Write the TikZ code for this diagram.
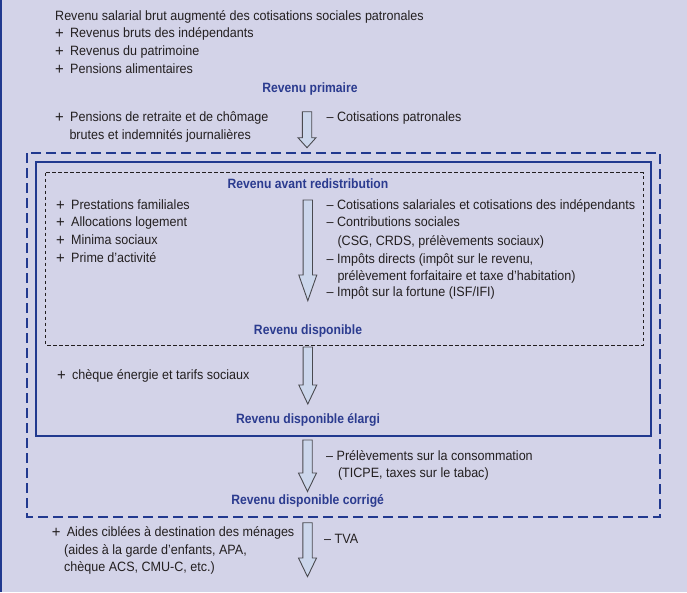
\documentclass[tikz,border=0pt]{standalone}
\usepackage{fontspec}
\setmainfont{Liberation Sans}[FakeStretch=0.93, BoldFeatures={FakeStretch=0.9}]
\definecolor{bgc}{HTML}{D3D3E8}
\definecolor{bluetxt}{HTML}{2B3B8F}
\definecolor{boxblue}{HTML}{21398F}
\definecolor{txt}{HTML}{231F20}
\definecolor{arrfill}{HTML}{CCD7EC}
\definecolor{arrdraw}{HTML}{4A4A50}
\newcommand\pl{\raisebox{-1.1pt}{\fontsize{16}{16}\selectfont+}\kern2.8pt\ }
\tikzset{
  lbl/.style={anchor=base west, inner sep=0pt, text=txt, font=\fontsize{13.5}{16}\selectfont},
  ttl/.style={anchor=base, inner sep=0pt, text=bluetxt, font=\fontsize{13.5}{16}\selectfont\bfseries},
  blockarrow/.style={draw=arrdraw, fill=arrfill, line width=0.9pt, line join=miter},
}
\newcommand\barrow[4]{%
  \draw[blockarrow] (#1-4.7,#2) -- (#1+4.7,#2) -- (#1+4.7,#3) -- (#1+9,#3) -- (#1,#4)
    -- (#1-9,#3) -- (#1-4.7,#3) -- cycle;}
\begin{document}
\begin{tikzpicture}[x=1pt,y=-1pt]
\fill[bgc] (0,0) rectangle (687,592);
\useasboundingbox (0,0) rectangle (687,592);
\draw[boxblue, line width=1.5pt] (0.75,0) -- (0.75,592);

% boxes
\draw[boxblue, line width=2pt, dash pattern=on 10pt off 5pt] (27,153) rectangle (660,517);
\draw[boxblue, line width=2pt] (36,162) rectangle (650.5,436);
\draw[txt, line width=0.7pt, dash pattern=on 3.5pt off 2.5pt] (45.5,172.5) rectangle (643,345);

% top part
\node[lbl] (l1) at (55,20) {Revenu salarial brut augmenté des cotisations sociales patronales};
\node[lbl] (l2) at (55,37.7) {\pl Revenus bruts des indépendants};
\node[lbl] (l3) at (55,55.4) {\pl Revenus du patrimoine};
\node[lbl] (l4) at (55,73.1) {\pl Pensions alimentaires};
\node[ttl] (rp) at (310,92) {Revenu primaire};
\node[lbl] (p1) at (55,121.7) {\pl Pensions de retraite et de chômage};
\node[lbl] (p2) at (69.3,139) {brutes et indemnités journalières};
\node[lbl] (c1) at (326.5,121.7) {– Cotisations patronales};
\barrow{307}{111.7}{137.7}{147.7}

% inner dashed box
\node[ttl] (rar) at (308,188) {Revenu avant redistribution};
\node[lbl] (a1) at (56,209.3) {\pl Prestations familiales};
\node[lbl] (a2) at (56,226.7) {\pl Allocations logement};
\node[lbl] (a3) at (56,244.3) {\pl Minima sociaux};
\node[lbl] (a4) at (56,262) {\pl Prime d'activité};
\node[lbl] (b1) at (326.5,209.3) {– Cotisations salariales et cotisations des indépendants};
\node[lbl] (b2) at (326.5,226.7) {– Contributions sociales};
\node[lbl] (b3) at (337.3,245) {(CSG, CRDS, prélèvements sociaux)};
\node[lbl] (b4) at (326.5,263.3) {– Impôts directs (impôt sur le revenu,};
\node[lbl] (b5) at (337.3,280) {prélèvement forfaitaire et taxe d'habitation)};
\node[lbl] (b6) at (326.5,296.7) {– Impôt sur la fortune (ISF/IFI)};
\barrow{307.8}{200}{275}{300.7}
\node[ttl] (rd) at (308,334.3) {Revenu disponible};

% solid box lower part
\barrow{307.8}{347}{385}{404}
\node[lbl] (d1) at (57,379) {\pl chèque énergie et tarifs sociaux};
\node[ttl] (rde) at (308,423.3) {Revenu disponible élargi};

% outer dashed box lower part
\barrow{307.5}{440}{473}{491.5}
\node[lbl] (e1) at (326,460.7) {– Prélèvements sur la consommation};
\node[lbl] (e2) at (337.8,477.3) {(TICPE, taxes sur le tabac)};
\node[ttl] (rdc) at (307.7,504) {Revenu disponible corrigé};

% bottom
\barrow{307.5}{522.7}{558}{576.7}
\node[lbl] (f1) at (51.6,536.7) {\pl Aides ciblées à destination des ménages};
\node[lbl] (f2) at (64,554.3) {(aides à la garde d'enfants, APA,};
\node[lbl] (f3) at (64,571.7) {chèque ACS, CMU-C, etc.)};
\node[lbl] (g1) at (324,543.3) {– TVA};
\end{tikzpicture}
\end{document}
